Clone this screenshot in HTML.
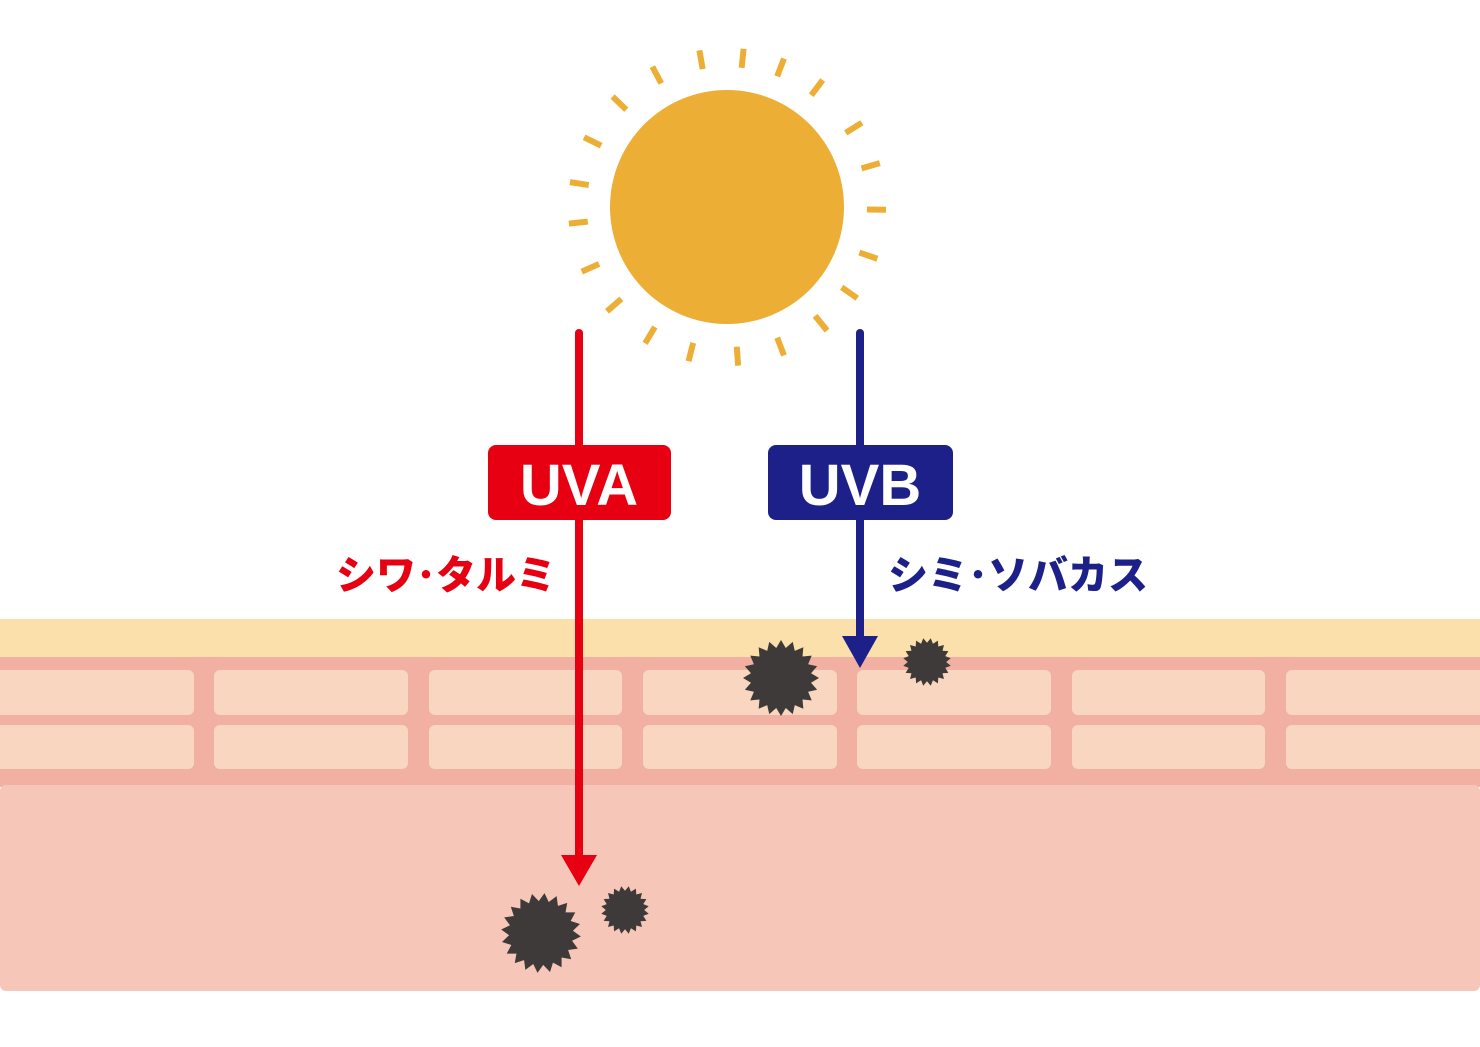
<!DOCTYPE html>
<html><head><meta charset="utf-8"><style>
html,body{margin:0;padding:0;background:#fff;}
svg{display:block}
</style></head><body>
<svg width="1480" height="1047" viewBox="0 0 1480 1047" xmlns="http://www.w3.org/2000/svg">
<defs>
<polygon id="st" points="1,0 0.790,0.125 0.951,0.309 0.713,0.363 0.809,0.588 0.566,0.566 0.588,0.809 0.363,0.713 0.309,0.951 0.125,0.790 0,1 -0.125,0.790 -0.309,0.951 -0.363,0.713 -0.588,0.809 -0.566,0.566 -0.809,0.588 -0.713,0.363 -0.951,0.309 -0.790,0.125 -1,0 -0.790,-0.125 -0.951,-0.309 -0.713,-0.363 -0.809,-0.588 -0.566,-0.566 -0.588,-0.809 -0.363,-0.713 -0.309,-0.951 -0.125,-0.790 0,-1 0.125,-0.790 0.309,-0.951 0.363,-0.713 0.588,-0.809 0.566,-0.566 0.809,-0.588 0.713,-0.363 0.951,-0.309 0.790,-0.125" fill="#3e3a39"/>
</defs>
<rect x="0" y="0" width="1480" height="1047" fill="#fff"/>
<rect x="0" y="619" width="1480" height="40" fill="#fbe0ac"/>
<rect x="0" y="657" width="1480" height="130" fill="#f2b0a2"/>
<rect x="0" y="785" width="1480" height="206" rx="6" fill="#f6c7b8"/>
<g fill="#f8d6c0">
<rect x="-8" y="670" width="202" height="45" rx="6"/>
<rect x="214" y="670" width="194" height="45" rx="6"/>
<rect x="429" y="670" width="193" height="45" rx="6"/>
<rect x="643" y="670" width="194" height="45" rx="6"/>
<rect x="857" y="670" width="194" height="45" rx="6"/>
<rect x="1072" y="670" width="193" height="45" rx="6"/>
<rect x="1286" y="670" width="202" height="45" rx="6"/>
<rect x="-8" y="725" width="202" height="44" rx="6"/>
<rect x="214" y="725" width="194" height="44" rx="6"/>
<rect x="429" y="725" width="193" height="44" rx="6"/>
<rect x="643" y="725" width="194" height="44" rx="6"/>
<rect x="857" y="725" width="194" height="44" rx="6"/>
<rect x="1072" y="725" width="193" height="44" rx="6"/>
<rect x="1286" y="725" width="202" height="44" rx="6"/>
</g>
<circle cx="727" cy="207" r="117" fill="#ecae34"/>
<g stroke="#ecae34" stroke-width="6">
<line x1="727" y1="67" x2="727" y2="48" transform="rotate(6 727 207)"/>
<line x1="727" y1="67" x2="727" y2="48" transform="rotate(21 727 207)"/>
<line x1="727" y1="67" x2="727" y2="48" transform="rotate(37 727 207)"/>
<line x1="727" y1="67" x2="727" y2="48" transform="rotate(58 727 207)"/>
<line x1="727" y1="67" x2="727" y2="48" transform="rotate(74 727 207)"/>
<line x1="727" y1="67" x2="727" y2="48" transform="rotate(91 727 207)"/>
<line x1="727" y1="67" x2="727" y2="48" transform="rotate(109 727 207)"/>
<line x1="727" y1="67" x2="727" y2="48" transform="rotate(125 727 207)"/>
<line x1="727" y1="67" x2="727" y2="48" transform="rotate(141 727 207)"/>
<line x1="727" y1="67" x2="727" y2="48" transform="rotate(159 727 207)"/>
<line x1="727" y1="67" x2="727" y2="48" transform="rotate(176 727 207)"/>
<line x1="727" y1="67" x2="727" y2="48" transform="rotate(194 727 207)"/>
<line x1="727" y1="67" x2="727" y2="48" transform="rotate(211 727 207)"/>
<line x1="727" y1="67" x2="727" y2="48" transform="rotate(229 727 207)"/>
<line x1="727" y1="67" x2="727" y2="48" transform="rotate(246 727 207)"/>
<line x1="727" y1="67" x2="727" y2="48" transform="rotate(264 727 207)"/>
<line x1="727" y1="67" x2="727" y2="48" transform="rotate(279 727 207)"/>
<line x1="727" y1="67" x2="727" y2="48" transform="rotate(296 727 207)"/>
<line x1="727" y1="67" x2="727" y2="48" transform="rotate(314 727 207)"/>
<line x1="727" y1="67" x2="727" y2="48" transform="rotate(332 727 207)"/>
<line x1="727" y1="67" x2="727" y2="48" transform="rotate(350 727 207)"/>
</g>
<line x1="579" y1="333" x2="579" y2="860" stroke="#e60012" stroke-width="8" stroke-linecap="round"/>
<polygon points="561,855 597,855 579,886" fill="#e60012"/>
<rect x="488" y="445" width="183" height="75" rx="8" fill="#e60012"/>
<text x="579" y="505" text-anchor="middle" font-family="Liberation Sans, sans-serif" font-weight="bold" font-size="58" fill="#fff">UVA</text>
<text x="556" y="589" text-anchor="end" font-family="'Liberation Sans','Noto Sans CJK JP',sans-serif" font-weight="900" font-size="40" fill="#e60012">シワ･タルミ</text>
<line x1="860" y1="333" x2="860" y2="640" stroke="#1d2088" stroke-width="8" stroke-linecap="round"/>
<polygon points="842,636 878,636 860,668" fill="#1d2088"/>
<rect x="768" y="445" width="185" height="75" rx="8" fill="#1d2088"/>
<text x="860" y="505" text-anchor="middle" font-family="Liberation Sans, sans-serif" font-weight="bold" font-size="58" fill="#fff">UVB</text>
<text x="888" y="589" font-family="'Liberation Sans','Noto Sans CJK JP',sans-serif" font-weight="900" font-size="40" fill="#1d2088">シミ･ソバカス</text>
<use href="#st" transform="translate(781 678) scale(38)"/>
<use href="#st" transform="translate(927 662) scale(24) rotate(9)"/>
<use href="#st" transform="translate(541 933) scale(40) rotate(5)"/>
<use href="#st" transform="translate(625 910) scale(24) rotate(9)"/>
</svg>
</body></html>
